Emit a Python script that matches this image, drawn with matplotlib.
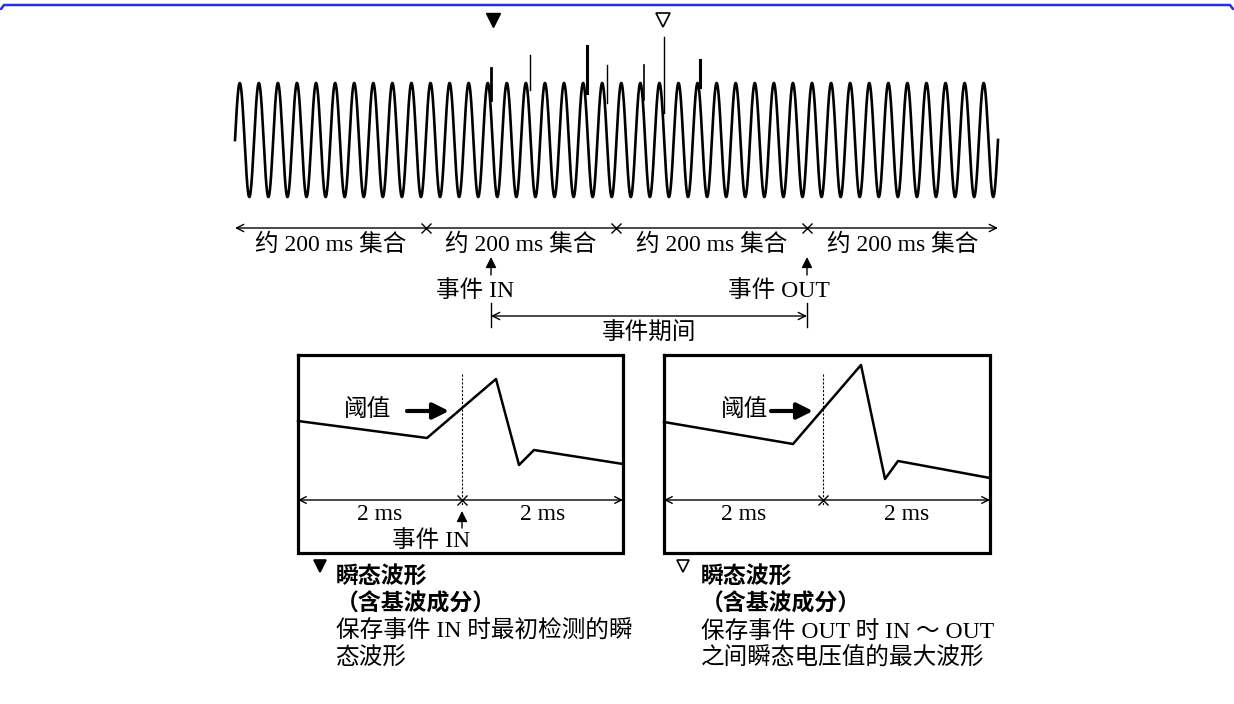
import numpy as np
import matplotlib
matplotlib.use("Agg")
import matplotlib.pyplot as plt

plt.rcParams['font.family'] = ['Liberation Serif', 'Noto Sans CJK SC', 'DejaVu Sans']

# ---- 数据 (画面像素坐标, y 向下) ----
# 基波: 起止位置、周期数、中心线与振幅
wave_x0, wave_x1 = 235, 998
wave_cycles = 40
wave_mid, wave_amp = 140, 57

# 瞬态尖峰: x, 顶端, 底端, 线宽
spike_x = [491, 530, 587, 607, 644, 664, 700]
spike_top = [68, 55, 46, 65, 65, 37, 60]
spike_bot = [100, 90, 93, 103, 100, 113, 87]
spike_lw = [2.0, 1.0, 2.2, 1.0, 1.2, 1.0, 2.2]

# 约 200 ms 集合分段边界
seg_edges = [235, 426, 616, 807, 998]
seg_label = "约 200 ms 集合"

# 事件 IN / OUT 位置
event_in_x, event_out_x = 491, 807

# 下方两个放大框: 框范围与波形折点
box_left = dict(x0=298, x1=623, y0=355, y1=553)
box_right = dict(x0=664, x1=990, y0=355, y1=553)
left_wave_x = [298, 427, 496, 519, 534, 623]
left_wave_y = [421, 438, 379, 465, 450, 464]
right_wave_x = [664, 793, 861, 885, 898, 990]
right_wave_y = [422, 444, 365, 479, 461, 478]
left_trigger_x, right_trigger_x = 462, 823

caption_left = ["瞬态波形", "（含基波成分）", "保存事件 IN 时最初检测的瞬", "态波形"]
caption_right = ["瞬态波形", "（含基波成分）", "保存事件 OUT 时 IN ～ OUT", "之间瞬态电压值的最大波形"]

FS = 17
fig = plt.figure(figsize=(12.34, 7.04), dpi=100)
ax = fig.add_axes([0, 0, 1, 1])
ax.set_xlim(0, 1234)
ax.set_ylim(704, 0)
ax.axis('off')

# 顶部蓝色边框线
ax.plot([1, 4, 1230, 1233], [9, 5, 5, 9], color='#2b2bf0', lw=1.8, solid_capstyle='round')

# 基波 + 尖峰
t = np.linspace(0, 1, 4000)
ax.plot(wave_x0 + t * (wave_x1 - wave_x0),
        wave_mid - wave_amp * np.sin(2 * np.pi * wave_cycles * t),
        color='black', lw=1.9)
for x, top, bot, lw in zip(spike_x, spike_top, spike_bot, spike_lw):
    ax.plot([x, x], [top, bot], color='black', lw=lw)

# 顶部三角标记
ax.plot([493], [20], marker='v', ms=10, color='black', mfc='black')
ax.plot([663], [20], marker='v', ms=10, color='black', mfc='white', mew=1.2)

# 集合分段线
seg_y = 228
ax.annotate('', xy=(seg_edges[0], seg_y), xytext=(seg_edges[-1], seg_y),
            arrowprops=dict(arrowstyle='<->', lw=1.0, color='black',
                            mutation_scale=13, shrinkA=0, shrinkB=0))
ax.plot(seg_edges[1:-1], [seg_y] * 3, 'x', color='black', ms=7, mew=1.0)
for a, b in zip(seg_edges[:-1], seg_edges[1:]):
    ax.text((a + b) / 2, 245, seg_label, ha='center', va='center', fontsize=FS)


def up_arrow(x, y_tip, y_tail):
    ax.annotate('', xy=(x, y_tip), xytext=(x, y_tail),
                arrowprops=dict(arrowstyle='-|>', lw=1.0, color='black',
                                mutation_scale=16, shrinkA=0, shrinkB=0))


up_arrow(event_in_x, 257, 275)
up_arrow(event_out_x, 257, 275)
ax.text(475, 291, "事件 IN", ha='center', va='center', fontsize=FS)
ax.text(779, 291, "事件 OUT", ha='center', va='center', fontsize=FS)

# 事件期间
ax.plot([event_in_x, event_in_x], [303, 327], color='black', lw=1.0)
ax.plot([event_out_x, event_out_x], [303, 327], color='black', lw=1.0)
ax.annotate('', xy=(event_in_x, 316), xytext=(event_out_x, 316),
            arrowprops=dict(arrowstyle='<->', lw=1.0, color='black',
                            mutation_scale=13, shrinkA=0, shrinkB=0))
ax.text((event_in_x + event_out_x) / 2, 334, "事件期间", ha='center', va='center', fontsize=FS)


def draw_box(box, wx, wy, trig_x, label_x, arrow_x0):
    x0, x1, y0, y1 = box['x0'], box['x1'], box['y0'], box['y1']
    ax.plot([x0, x1, x1, x0, x0], [y0, y0, y1, y1, y0], color='black', lw=2.3,
            solid_joinstyle='miter')
    ax.plot(wx, wy, color='black', lw=1.8)
    ax.plot([trig_x, trig_x], [374, 505], color='black', lw=0.8, ls=(0, (2, 1.5)))
    ax.text(label_x, 410, "阈值", ha='center', va='center', fontsize=FS)
    ax.annotate('', xy=(arrow_x0 + 42, 411), xytext=(arrow_x0, 411),
                arrowprops=dict(arrowstyle='-|>', lw=3.0, color='black',
                                mutation_scale=24, shrinkA=0, shrinkB=0))
    ax.annotate('', xy=(x0, 500), xytext=(x1, 500),
                arrowprops=dict(arrowstyle='<->', lw=1.0, color='black',
                                mutation_scale=12, shrinkA=0, shrinkB=0))
    ax.plot([trig_x], [500], 'x', color='black', ms=7, mew=1.0)
    ax.text((x0 + trig_x) / 2, 514, "2 ms", ha='center', va='center', fontsize=FS)
    ax.text((trig_x + x1) / 2, 514, "2 ms", ha='center', va='center', fontsize=FS)


draw_box(box_left, left_wave_x, left_wave_y, left_trigger_x, 368, 407)
draw_box(box_right, right_wave_x, right_wave_y, right_trigger_x, 745, 771)
up_arrow(left_trigger_x, 511, 528)
ax.text(431, 541, "事件 IN", ha='center', va='center', fontsize=FS)


def caption(x_mark, x_text, lines, filled):
    ax.plot([x_mark], [566], marker='v', ms=9, color='black',
            mfc='black' if filled else 'white', mew=1.2)
    ys = [576, 604, 632, 659]
    for i, (line, y) in enumerate(zip(lines, ys)):
        if i < 2:
            ax.text(x_text, y, line, ha='left', va='center', fontsize=FS - 0.5,
                    family=['Noto Sans CJK SC'], fontweight='bold')
        else:
            ax.text(x_text, y, line, ha='left', va='center', fontsize=FS)


caption(320, 336, caption_left, True)
caption(683, 701, caption_right, False)

fig.savefig('out.png', dpi=100)
